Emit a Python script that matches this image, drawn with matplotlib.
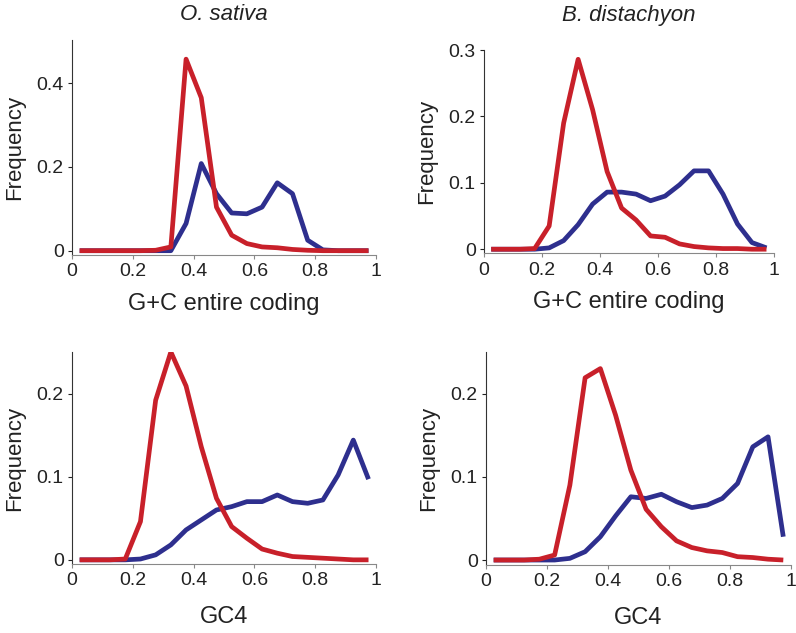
import matplotlib
matplotlib.use('Agg')
import matplotlib.pyplot as plt
import numpy as np

plt.rcParams['font.family'] = ['Liberation Sans', 'DejaVu Sans']

# bin centres (20 bins of width 0.05)
gc_bins = np.arange(0.025, 1.0, 0.05)

# O. sativa, G+C entire coding
os_gc_red = [0, 0, 0, 0, 0, 0.001, 0.009, 0.457, 0.365, 0.104, 0.037,
             0.017, 0.009, 0.007, 0.003, 0.001, 0, 0, 0, 0]
os_gc_blue = [0, 0, 0, 0, 0, 0, 0, 0.065, 0.208, 0.136, 0.090,
              0.088, 0.104, 0.162, 0.136, 0.025, 0.002, 0, 0, 0]

# B. distachyon, G+C entire coding
bd_gc_red = [0, 0, 0, 0.001, 0.035, 0.19, 0.286, 0.21, 0.117, 0.062, 0.044,
             0.02, 0.018, 0.008, 0.004, 0.002, 0.001, 0.001, 0, 0]
bd_gc_blue = [0, 0, 0, 0, 0.002, 0.013, 0.037, 0.068, 0.086, 0.086, 0.083,
              0.073, 0.080, 0.097, 0.118, 0.118, 0.083, 0.038, 0.01, 0.002]

# O. sativa, GC4
os_gc4_red = [0, 0, 0, 0.001, 0.046, 0.192, 0.25, 0.209, 0.136, 0.074, 0.04,
              0.026, 0.013, 0.008, 0.004, 0.003, 0.002, 0.001, 0, 0]
os_gc4_blue = [0, 0, 0, 0, 0.001, 0.006, 0.018, 0.036, 0.048, 0.060, 0.064,
               0.070, 0.070, 0.078, 0.070, 0.068, 0.072, 0.102, 0.144, 0.097]

# B. distachyon, GC4
bd_gc4_red = [0, 0, 0, 0.001, 0.006, 0.09, 0.219, 0.23, 0.174, 0.108, 0.061,
              0.04, 0.023, 0.015, 0.011, 0.009, 0.004, 0.003, 0.001, 0]
bd_gc4_blue = [0, 0, 0, 0, 0, 0.002, 0.010, 0.028, 0.053, 0.076, 0.074,
               0.079, 0.070, 0.063, 0.066, 0.074, 0.092, 0.136, 0.148, 0.028]

titles = ['O. sativa', 'B. distachyon']
xlabels = ['G+C entire coding', 'GC4']
xticks = [0, 0.2, 0.4, 0.6, 0.8, 1]
xticklabels = ['0', '0.2', '0.4', '0.6', '0.8', '1']

RED = '#c8202a'
BLUE = '#2e2f8e'

fig = plt.figure(figsize=(7.96, 6.33), dpi=100)

panels = [
    # rect, red, blue, ylim, yticks, yticklabels, xlabel, labelpad(pt)
    ([0.0905, 0.597, 0.382, 0.340], os_gc_red, os_gc_blue, (-0.0105, 0.503),
     [0, 0.2, 0.4], ['0', '0.2', '0.4'], xlabels[0], 9),
    ([0.608, 0.600, 0.364, 0.321], bd_gc_red, bd_gc_blue, (-0.006, 0.3),
     [0, 0.1, 0.2, 0.3], ['0', '0.1', '0.2', '0.3'], xlabels[0], 9),
    ([0.0905, 0.109, 0.382, 0.335], os_gc4_red, os_gc4_blue, (-0.005, 0.25),
     [0, 0.1, 0.2], ['0', '0.1', '0.2'], xlabels[1], 12),
    ([0.6106, 0.1074, 0.383, 0.3366], bd_gc4_red, bd_gc4_blue, (-0.006, 0.25),
     [0, 0.1, 0.2], ['0', '0.1', '0.2'], xlabels[1], 12),
]

axes = []
for rect, red, blue, ylim, yt, ytl, xl, pad in panels:
    ax = fig.add_axes(rect)
    ax.plot(gc_bins, blue, color=BLUE, lw=3.4, solid_capstyle='butt', zorder=2)
    ax.plot(gc_bins, red, color=RED, lw=3.4, solid_capstyle='butt', zorder=3)
    ax.set_xlim(0, 1)
    ax.set_ylim(*ylim)
    ax.set_xticks(xticks)
    ax.set_xticklabels(xticklabels)
    ax.set_yticks(yt)
    ax.set_yticklabels(ytl)
    ax.spines['top'].set_visible(False)
    ax.spines['right'].set_visible(False)
    ax.spines['left'].set_color('#333333')
    ax.spines['bottom'].set_color('#888888')
    ax.tick_params(axis='both', direction='out', length=3, width=0.8,
                   labelsize=14, colors='#222222', pad=3)
    ax.tick_params(axis='x', color='#888888')
    ax.set_xlabel(xl, fontsize=17, labelpad=pad, color='#222222')
    ax.set_ylabel('Frequency', fontsize=16, color='#222222', labelpad=8)
    axes.append(ax)

for ax, t in zip(axes[:2], titles):
    p = ax.get_position()
    fig.text(p.x0 + p.width / 2, 1 - 15 / 633, t, fontsize=16, style='italic',
             ha='center', va='center', color='#222222')

fig.savefig('out.png', dpi=100)
